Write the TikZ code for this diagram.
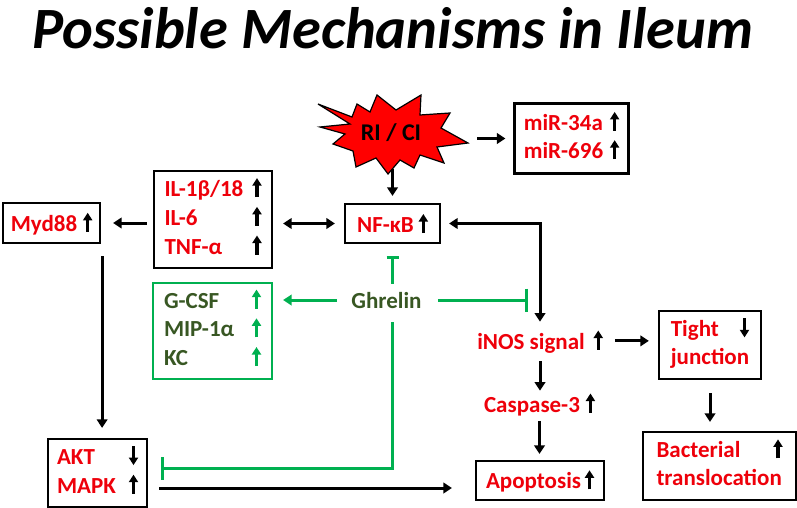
\documentclass[tikz,border=0pt]{standalone}
\usepackage{fontspec}
\setmainfont{Carlito}
\usetikzlibrary{arrows.meta,calc}
\definecolor{myred}{RGB}{238,0,10}
\definecolor{mygreen}{RGB}{0,176,80}
\definecolor{dkgreen}{RGB}{56,87,35}
\newcommand\upa[1][black]{\tikz[baseline=0pt]\draw[#1,line width=3.3pt,-{Triangle[length=7.5pt,width=9pt]}] (0pt,-0.5pt)--(0pt,18.5pt);}
\newcommand\dna[1][black]{\tikz[baseline=0pt]\draw[#1,line width=3.3pt,-{Triangle[length=7.5pt,width=9pt]}] (0pt,18.5pt)--(0pt,-0.5pt);}
\newcommand\txtfont{\bfseries\fontsize{23}{28}\selectfont}
\tikzset{
  box/.style={draw=black, line width=2.2pt, inner sep=0pt, font=\txtfont, text=myred},
  gbox/.style={box, draw=mygreen, text=dkgreen},
  lbl/.style={inner sep=0pt, font=\txtfont, text=myred, anchor=base},
  arr/.style={black, line width=3pt, -{Triangle[length=8.5pt,width=10.5pt]}},
  darr/.style={black, line width=3pt, {Triangle[length=8.5pt,width=10.5pt]}-{Triangle[length=8.5pt,width=10.5pt]}},
  garr/.style={mygreen, line width=3pt, -{Triangle[length=8.5pt,width=10.5pt]}},
  inh/.style={mygreen, line width=3pt, -{Bar[width=23pt,line width=3.3pt]}},
  inhS/.style={mygreen, line width=3pt, -{Bar[width=12pt,line width=3.3pt]}},
}
\begin{document}
\begin{tikzpicture}[x=1pt,y=-1pt]
\useasboundingbox (0,0) rectangle (797,508);
% title
\node[inner sep=0pt, anchor=base, font=\bfseries\itshape\fontsize{58.5}{62}\selectfont] (title) at (393,49) {Possible Mechanisms in Ileum};
% star
\draw[fill=red, draw=black, line width=1.2pt, line join=miter]
 (318,104) -- (352,117) -- (357,104) -- (370,112) -- (377,95) -- (396,110) -- (421,95) -- (420,115)
 -- (450,113) -- (441,128) -- (468,143) -- (437,147) -- (444,163) -- (420,155) -- (414,168) -- (400,160)
 -- (388,174) -- (376,158) -- (356,167) -- (353,151) -- (333,144) -- (345,134) -- (320,127) -- (350,124) -- cycle;
\node[inner sep=0pt, anchor=base, font=\bfseries\fontsize{24}{28}\selectfont] (star) at (391,140) {RI / CI};
% boxes
\node[box, minimum width=114pt, minimum height=70pt] (mir) at (571.5,138.5)
 {\fontsize{23}{27}\selectfont\begin{tabular}{@{}l@{\hspace{7pt}}c@{}}miR-34a & \upa\\ miR-696 & \upa\end{tabular}};
\node[box, minimum width=95pt, minimum height=39pt] (nfkb) at (392.5,223.5) {NF-κB\hspace{5pt}\upa};
\node[box, minimum width=118pt, minimum height=97pt] (il) at (213,219.5)
 {\fontsize{23}{28.5}\selectfont\begin{tabular}{@{}p{88pt}@{}c@{}}IL-1β/18 & \upa\\ IL-6 & \upa\\ TNF-α & \upa\end{tabular}};
\node[box, minimum width=97pt, minimum height=40pt] (myd) at (51.5,223) {Myd88\hspace{6pt}\upa};
\node[gbox, minimum width=119pt, minimum height=96pt] (gbox) at (212.5,331)
 {\fontsize{23}{28.5}\selectfont\begin{tabular}{@{}p{88pt}@{}c@{}}G-CSF & \upa[mygreen]\\ MIP-1α & \upa[mygreen]\\ KC & \upa[mygreen]\end{tabular}};
\node[box, minimum width=99pt, minimum height=68pt] (akt) at (97.5,473)
 {\begin{tabular}{@{}p{72pt}@{}c@{}}AKT & \dna\\ MAPK & \upa\end{tabular}};
\node[box, minimum width=102pt, minimum height=68pt] (tight) at (710,345)
 {\begin{tabular}{@{}p{69pt}@{}c@{}}Tight & \dna\\ \multicolumn{2}{@{}l@{}}{junction}\end{tabular}};
\node[box, minimum width=128pt, minimum height=39pt] (apop) at (540,480.5) {Apoptosis\hspace{4pt}\upa};
\node[box, minimum width=153pt, minimum height=68pt] (bact) at (719.5,466)
 {\begin{tabular}{@{}p{117pt}@{}c@{}}Bacterial & \upa\\ \multicolumn{2}{@{}l@{}}{translocation}\end{tabular}};
% free labels
\node[lbl] (inos) at (540,349) {iNOS signal\hspace{9pt}\upa};
\node[lbl] (casp) at (539.5,412) {Caspase-3\hspace{6pt}\upa};
\node[lbl, text=dkgreen] (ghr) at (386.5,308) {Ghrelin};
% connectors
\draw[arr, shorten <=56pt, shorten >=8pt] (star.east |- mir.west) -- (mir.west);
\draw[arr, shorten <=28pt, shorten >=7pt] (nfkb.north |- star.south) -- (nfkb.north);
\draw[darr, shorten <=9pt, shorten >=10pt] (nfkb.west) -- (nfkb.west -| il.east);
\draw[arr, shorten <=6pt, shorten >=12pt] (il.west |- myd.east) -- (myd.east);
\draw[arr, shorten <=12pt, shorten >=10pt] ([xshift=1pt]myd.south east) -- ([xshift=1pt]myd.south east |- akt.north);
\coordinate (aktOut) at ($(akt.east)+(0,15)$);
\draw[arr, shorten <=11pt, shorten >=23pt] (aktOut) -- (aktOut -| apop.west);
\draw[darr, shorten <=8pt, shorten >=7pt] (nfkb.east) -| (inos.north);
\draw[arr, shorten <=12pt, shorten >=9pt] (inos.east) -- (inos.east -| tight.west);
\draw[arr, shorten <=8pt, shorten >=1pt] (inos.south) -- (inos.south |- casp.north);
\draw[arr, shorten <=5pt, shorten >=6pt] (casp.south) -- (casp.south |- apop.north);
\draw[arr, shorten <=13pt, shorten >=9pt] (tight.south) -- (tight.south |- bact.north);
% ghrelin
\draw[garr, shorten <=14pt, shorten >=10pt] (ghr.west) -- (ghr.west -| gbox.east);
\draw[inhS, shorten >=12pt] ($(nfkb.south |- ghr.north)+(0,-8)$) -- (nfkb.south);
\draw[inh, shorten <=16pt] (ghr.east) -- ($(ghr.east -| inos.north)+(-12,0)$);
\coordinate (gdown) at ($(nfkb.south |- ghr.south)+(0,14)$);
\coordinate (aktIn) at ($(akt.east)+(0,-5)$);
\draw[inh, shorten >=13pt] (gdown) |- (aktIn);
\end{tikzpicture}
\end{document}
